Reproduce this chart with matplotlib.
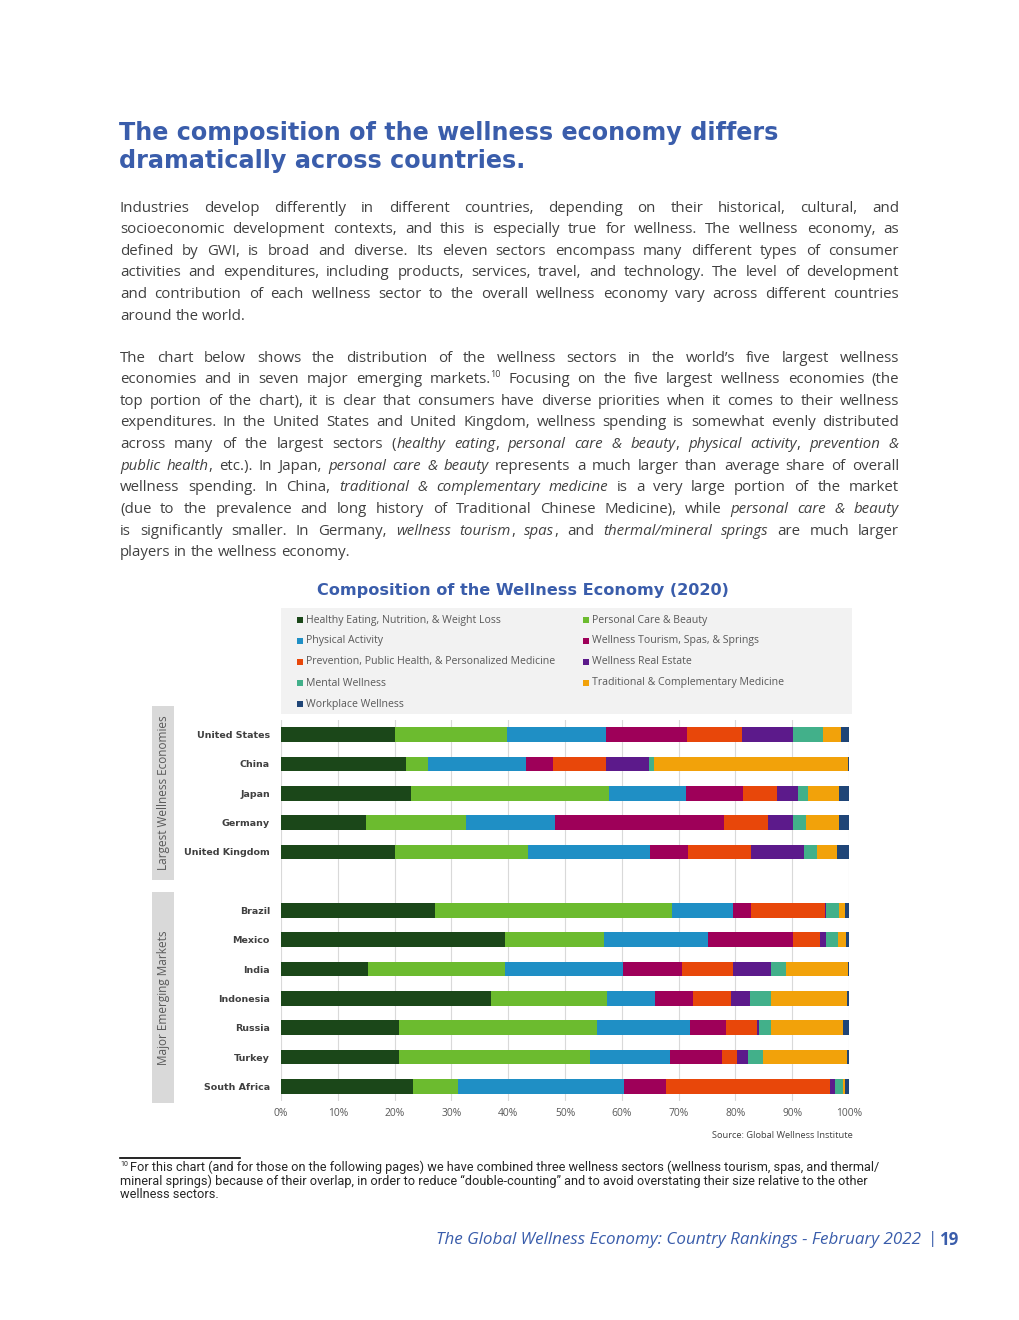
import matplotlib
matplotlib.use("Agg")
import matplotlib.pyplot as plt
from matplotlib.patches import Rectangle

W_PX, H_PX = 1020, 1320
BLUE = '#3a5dab'
BODY = '#404040'
BODY_FONT = 'Open Sans'

# ---- data (share of wellness spending, %) ----
countries = ['United States', 'China', 'Japan', 'Germany', 'United Kingdom',
             'Brazil', 'Mexico', 'India', 'Indonesia', 'Russia', 'Turkey', 'South Africa']
positions = [0, 1, 2, 3, 4, 6, 7, 8, 9, 10, 11, 12]

sectors = ['Healthy Eating, Nutrition, & Weight Loss', 'Personal Care & Beauty',
           'Physical Activity', 'Wellness Tourism, Spas, & Springs',
           'Prevention, Public Health, & Personalized Medicine', 'Wellness Real Estate',
           'Mental Wellness', 'Traditional & Complementary Medicine', 'Workplace Wellness']
colors = ['#1b4719', '#6cbb2f', '#1f8fc5', '#9e0059', '#e8470a',
          '#5c1a8b', '#42b08a', '#f2a20a', '#1f4577']

healthy_eating = [20.1, 22.0, 22.9, 14.9, 20.1, 27.1, 39.5, 15.4, 37.0, 20.7, 20.8, 23.2]
personal_care = [19.7, 3.8, 34.9, 17.6, 23.3, 41.7, 17.4, 24.1, 20.4, 34.9, 33.6, 8.0]
physical_activity = [17.4, 17.3, 13.5, 15.7, 21.5, 10.8, 18.2, 20.7, 8.4, 16.4, 14.0, 29.2]
wellness_tourism = [14.2, 4.8, 10.0, 29.8, 6.7, 3.1, 15.0, 10.4, 6.8, 6.4, 9.3, 7.4]
prevention = [9.7, 9.3, 6.0, 7.8, 11.1, 13.1, 4.8, 9.0, 6.7, 5.4, 2.5, 28.9]
real_estate = [9.0, 7.6, 3.7, 4.4, 9.3, 0.1, 1.1, 6.6, 3.2, 0.4, 2.0, 0.8]
mental_wellness = [5.4, 0.8, 1.8, 2.2, 2.3, 2.4, 2.1, 2.7, 3.7, 2.0, 2.6, 1.4]
traditional_medicine = [3.1, 34.2, 5.5, 5.8, 3.6, 1.0, 1.3, 10.9, 13.5, 12.8, 14.9, 0.4]
workplace_wellness = [1.4, 0.2, 1.7, 1.8, 2.1, 0.7, 0.6, 0.2, 0.3, 1.0, 0.3, 0.7]

series = [healthy_eating, personal_care, physical_activity, wellness_tourism, prevention,
          real_estate, mental_wellness, traditional_medicine, workplace_wellness]

title_lines = ['The composition of the wellness economy differs',
               'dramatically across countries.']

para1 = [
    "Industries develop differently in different countries, depending on their historical, cultural, and",
    "socioeconomic development contexts, and this is especially true for wellness. The wellness economy, as",
    "defined by GWI, is broad and diverse. Its eleven sectors encompass many different types of consumer",
    "activities and expenditures, including products, services, travel, and technology. The level of development",
    "and contribution of each wellness sector to the overall wellness economy vary across different countries",
    "around the world.",
]
para2 = [
    "The chart below shows the distribution of the wellness sectors in the world\u2019s five largest wellness",
    "economies and in seven major emerging markets.^10^ Focusing on the five largest wellness economies (the",
    "top portion of the chart), it is clear that consumers have diverse priorities when it comes to their wellness",
    "expenditures. In the United States and United Kingdom, wellness spending is somewhat evenly distributed",
    "across many of the largest sectors (*healthy eating*, *personal care & beauty*, *physical activity*, *prevention &*",
    "*public health*, etc.). In Japan, *personal care & beauty* represents a much larger than average share of overall",
    "wellness spending. In China, *traditional & complementary medicine* is a very large portion of the market",
    "(due to the prevalence and long history of Traditional Chinese Medicine), while *personal care & beauty*",
    "is significantly smaller. In Germany, *wellness tourism*, *spas*, and *thermal/mineral springs* are much larger",
    "players in the wellness economy.",
]
footnote = [
    "For this chart (and for those on the following pages) we have combined three wellness sectors (wellness tourism, spas, and thermal/",
    "mineral springs) because of their overlap, in order to reduce \u201cdouble-counting\u201d and to avoid overstating their size relative to the other",
    "wellness sectors.",
]


def fx(x):
    return x / W_PX


def fy(y):
    return 1 - y / H_PX


fig = plt.figure(figsize=(W_PX / 100, H_PX / 100), dpi=100)
fig.patch.set_facecolor('white')
renderer = fig.canvas.get_renderer()


def text_width(s, **kw):
    t = fig.text(0, 0, s, **kw)
    w = t.get_window_extent(renderer).width
    t.remove()
    return w


def fit_size(s, target, size=10, **kw):
    return size * target / text_width(s, fontsize=size, **kw)


def parse(line):
    # '*' toggles italic, '^' toggles superscript; returns list of words (lists of segments)
    words, word, seg, style = [], [], '', 'n'
    for ch in line:
        if ch in '*^':
            if seg:
                word.append((seg, style))
            seg = ''
            new = 'i' if ch == '*' else 's'
            style = 'n' if style == new else new
        elif ch == ' ':
            if seg:
                word.append((seg, style))
            if word:
                words.append(word)
            word, seg = [], ''
        else:
            seg += ch
    if seg:
        word.append((seg, style))
    if word:
        words.append(word)
    return words


def seg_kw(style, size, family, color):
    kw = dict(fontsize=size, family=family, color=color)
    if style == 'i':
        kw['style'] = 'italic'
    if style == 's':
        kw['fontsize'] = size * 0.6
    return kw


def draw_line(line, y, size, x0=120, x1=899, justify=True, family=BODY_FONT, color=BODY):
    words = parse(line)
    widths = [sum(text_width(s, **seg_kw(st, size, family, color)) for s, st in w) for w in words]
    gap = text_width('a a', fontsize=size, family=family) - text_width('aa', fontsize=size, family=family)
    if justify and len(words) > 1:
        gap = (x1 - x0 - sum(widths)) / (len(words) - 1)
    x = x0
    for w, ww in zip(words, widths):
        xs = x
        for s, st in w:
            kw = seg_kw(st, size, family, color)
            yy = y - size * 0.45 if st == 's' else y
            fig.text(fx(xs), fy(yy), s, va='center', ha='left', **kw)
            xs += text_width(s, **kw)
        x += ww + gap


# ---- title ----
title_kw = dict(family='DejaVu Sans', weight='bold')
title_size = fit_size(title_lines[0], 663, 18, **title_kw)
for line, y in zip(title_lines, [133, 161]):
    fig.text(fx(119), fy(y), line, fontsize=title_size, color=BLUE, va='center',
             ha='left', **title_kw)

# ---- body text ----
body_size = fit_size(para1[3], 745, 9.5, family=BODY_FONT)
for i, line in enumerate(para1):
    draw_line(line, 208 + i * 21.6, body_size, justify=i < len(para1) - 1)
for i, line in enumerate(para2):
    draw_line(line, 358 + i * 21.65, body_size, justify=i < len(para2) - 1)

# ---- chart ----
ctitle = 'Composition of the Wellness Economy (2020)'
fig.text(fx(523), fy(590), ctitle, fontsize=fit_size(ctitle, 410, 11, **title_kw),
         color=BLUE, ha='center', va='center', **title_kw)

ax = fig.add_axes([fx(281), fy(1101), (849 - 281) / W_PX, (1101 - 720) / H_PX])
left = [0.0] * len(countries)
for vals, col, name in zip(series, colors, sectors):
    ax.barh(positions, vals, left=left, height=0.5, color=col, label=name, zorder=3)
    left = [a + b for a, b in zip(left, vals)]

ax.set_xlim(0, 100)
ax.set_ylim(12.5, -0.5)
ax.set_xticks(range(0, 101, 10))
ax.set_xticklabels([f'{v}%' for v in range(0, 101, 10)], fontsize=7.4, color='#595959',
                   family='Open Sans')
ax.set_yticks(positions)
ax.set_yticklabels(countries, fontsize=6.8, weight='bold', color='#404040',
                   family='DejaVu Sans')
ax.tick_params(axis='both', length=0)
ax.tick_params(axis='y', pad=8)
ax.tick_params(axis='x', pad=5)
ax.xaxis.grid(True, color='#d9d9d9', linewidth=0.8, zorder=0)
ax.set_axisbelow(True)
for sp in ax.spines.values():
    sp.set_visible(False)

# legend box drawn by hand: two columns, row-major
fig.patches.append(Rectangle((fx(281), fy(714)), 571 / W_PX, 106 / H_PX,
                             transform=fig.transFigure, facecolor='#f2f2f2',
                             edgecolor='none', zorder=0))
leg_kw = dict(family='Open Sans', color='#595959')
leg_size = fit_size(sectors[0], 197, 7, **leg_kw)
for k, (name, col) in enumerate(zip(sectors, colors)):
    lx = 297 if k % 2 == 0 else 583
    ly = 620 + (k // 2) * 21
    fig.patches.append(Rectangle((fx(lx), fy(ly + 3)), 6 / W_PX, 6 / H_PX,
                                 transform=fig.transFigure, facecolor=col,
                                 edgecolor='none'))
    fig.text(fx(lx + 9), fy(ly), name, fontsize=leg_size, ha='left', va='center', **leg_kw)

# group side labels
side_kw = dict(family='Open Sans', color='#595959')
side_size = fit_size('Largest Wellness Economies', 156, 8, **side_kw)
for y0, y1, label in [(706, 880, 'Largest Wellness Economies'),
                      (892, 1103, 'Major Emerging Markets')]:
    fig.patches.append(Rectangle((fx(152), fy(y1)), 22 / W_PX, (y1 - y0) / H_PX,
                                 transform=fig.transFigure, facecolor='#d9d9d9',
                                 edgecolor='none'))
    fig.text(fx(164), fy((y0 + y1) / 2), label, rotation=90, fontsize=side_size,
             ha='center', va='center', **side_kw)

src = 'Source: Global Wellness Institute'
fig.text(fx(853), fy(1136), src, fontsize=fit_size(src, 143, 6, family='Open Sans'),
         color='#404040', family='Open Sans', ha='right', va='center')

# ---- footnote ----
fig.add_artist(plt.Line2D([fx(120), fx(240)], [fy(1158), fy(1158)], color='black',
                          linewidth=1.2, transform=fig.transFigure))
foot_kw = dict(family='Roboto', color='#262626')
foot_size = fit_size(footnote[0], 752, 8, **foot_kw)
fig.text(fx(120), fy(1165), '10', fontsize=foot_size * 0.55, ha='left', va='center', **foot_kw)
for i, line in enumerate(footnote):
    x0 = 130 if i == 0 else 120
    fig.text(fx(x0), fy(1167 + i * 14), line, fontsize=foot_size, ha='left', va='center',
             **foot_kw)

# ---- page footer ----
foot_title = 'The Global Wellness Economy: Country Rankings - February 2022'
ft_size = fit_size(foot_title, 485, 11, family='Open Sans', style='italic')
fig.text(fx(921), fy(1240), foot_title, fontsize=ft_size, style='italic', family='Open Sans',
         color=BLUE, ha='right', va='center')
fig.text(fx(933), fy(1239), '|', fontsize=ft_size, family='Open Sans', color=BLUE,
         ha='center', va='center')
fig.text(fx(940), fy(1240), '19', fontsize=ft_size, weight='bold', family='Open Sans',
         color=BLUE, ha='left', va='center')

fig.savefig('out.png', dpi=100, facecolor='white')
